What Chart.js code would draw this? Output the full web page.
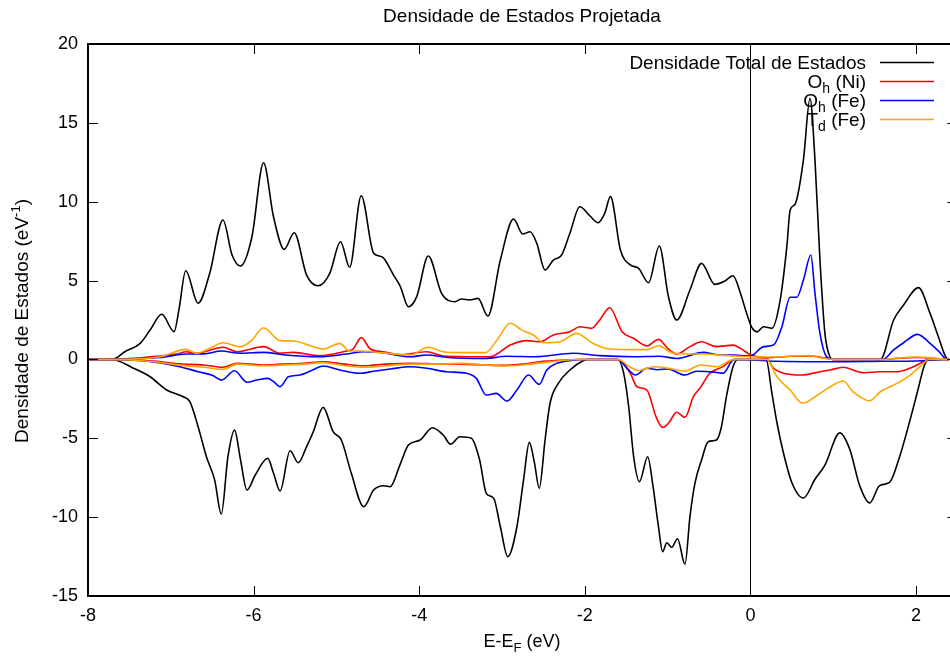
<!DOCTYPE html>
<html><head><meta charset="utf-8">
<script src="https://cdn.jsdelivr.net/npm/chart.js@4.4.1/dist/chart.umd.min.js"></script>
<style>html,body{margin:0;padding:0;background:#fff;overflow:hidden;width:950px;height:657px}canvas{display:block}</style>
</head><body>
<canvas id="c" width="958" height="657" style="width:958px;height:657px"></canvas>
<script>
// ---- data ----
const xTicks = [-8, -6, -4, -2, 0, 2];
const yTicks = [-15, -10, -5, 0, 5, 10, 15, 20];
const chartTitle = 'Densidade de Estados Projetada';
const seriesNames = ['Densidade Total de Estados', 'Oh (Ni)', 'Oh (Fe)', 'Td (Fe)'];

const totalUp = [[-8,0],[-7.71,0],[-7.55,0.5],[-7.37,1.02],[-7.25,1.86],[-7.11,2.86],[-6.96,1.76],[-6.9,3.2],[-6.82,5.62],[-6.67,3.56],[-6.53,5.46],[-6.37,8.84],[-6.26,6.62],[-6.16,5.92],[-6.02,7.78],[-5.88,12.47],[-5.76,9.05],[-5.63,6.98],[-5.51,8.03],[-5.36,5.35],[-5.22,4.67],[-5.08,5.46],[-4.95,7.46],[-4.84,5.84],[-4.7,10.38],[-4.55,6.73],[-4.45,6.51],[-4.31,5.35],[-4.23,4.65],[-4.13,3.34],[-4.03,3.98],[-3.89,6.56],[-3.73,4.19],[-3.57,3.66],[-3.49,3.83],[-3.39,3.77],[-3.29,3.87],[-3.17,2.75],[-3.02,6.3],[-2.86,8.9],[-2.75,7.95],[-2.66,8.1],[-2.58,7.36],[-2.48,5.67],[-2.38,6.3],[-2.28,6.62],[-2.18,8.0],[-2.06,9.68],[-1.94,9.11],[-1.84,8.67],[-1.76,9.26],[-1.69,10.32],[-1.57,6.94],[-1.45,5.99],[-1.35,5.78],[-1.23,4.86],[-1.1,7.19],[-0.99,3.98],[-0.89,2.5],[-0.73,4.4],[-0.59,6.09],[-0.43,4.76],[-0.31,4.97],[-0.21,5.31],[-0.12,4.2],[-0.05,3.0],[0.02,2.0],[0.08,1.75],[0.16,2.07],[0.26,1.97],[0.36,3.77],[0.44,7.15],[0.48,9.47],[0.54,9.85],[0.64,12.64],[0.72,16.56],[0.78,12.64],[0.84,6.3],[0.9,1.65],[0.96,0.17],[1.0,0],[1.57,0],[1.73,2.5],[1.85,3.45],[2.03,4.55],[2.17,2.92],[2.27,1.44],[2.37,0.07],[2.4,0]];

const totalDown = [[-8,0],[-7.71,0],[-7.45,-0.56],[-7.25,-1.1],[-7.05,-1.94],[-6.85,-2.37],[-6.77,-2.68],[-6.67,-4.27],[-6.57,-6.17],[-6.47,-7.65],[-6.39,-9.8],[-6.31,-6.17],[-6.23,-4.48],[-6.16,-6.3],[-6.08,-8.28],[-5.98,-7.33],[-5.83,-6.27],[-5.76,-7.2],[-5.68,-8.34],[-5.56,-5.79],[-5.46,-6.55],[-5.36,-5.53],[-5.28,-4.6],[-5.16,-3.04],[-5.04,-4.58],[-4.94,-5.11],[-4.82,-7.22],[-4.67,-9.34],[-4.55,-8.28],[-4.43,-8.01],[-4.35,-8.07],[-4.23,-6.65],[-4.13,-5.43],[-3.99,-5.11],[-3.84,-4.33],[-3.71,-4.79],[-3.62,-5.38],[-3.51,-4.9],[-3.37,-5.0],[-3.27,-6.38],[-3.19,-8.49],[-3.1,-8.81],[-3.02,-10.61],[-2.93,-12.51],[-2.82,-10.61],[-2.74,-7.65],[-2.67,-5.26],[-2.61,-6.5],[-2.55,-8.17],[-2.48,-5.11],[-2.42,-2.78],[-2.32,-1.52],[-2.18,-0.67],[-2.02,-0.08],[-1.95,0],[-1.6,0],[-1.53,-0.88],[-1.47,-3.0],[-1.41,-6.17],[-1.34,-7.75],[-1.24,-6.17],[-1.18,-7.9],[-1.11,-10.61],[-1.06,-12.19],[-1.01,-11.62],[-0.95,-11.91],[-0.88,-11.37],[-0.79,-12.99],[-0.73,-9.97],[-0.67,-7.86],[-0.59,-6.38],[-0.51,-5.22],[-0.41,-5.11],[-0.35,-4.27],[-0.29,-2.37],[-0.21,-0.46],[-0.15,0],[0.19,0],[0.26,-2.15],[0.32,-4.0],[0.4,-5.95],[0.5,-7.8],[0.64,-8.79],[0.78,-7.6],[0.9,-6.7],[1.08,-4.66],[1.2,-5.7],[1.32,-8.0],[1.44,-9.1],[1.56,-8.0],[1.68,-7.8],[1.8,-6.2],[1.92,-4.0],[2.02,-2.0],[2.1,-0.4],[2.15,0],[2.4,0]];

const niOhUp = [[-8,0],[-7.71,0],[-7.4,0.08],[-7.13,0.22],[-6.93,0.34],[-6.81,0.49],[-6.69,0.39],[-6.37,0.77],[-6.2,0.49],[-5.88,0.81],[-5.68,0.39],[-5.52,0.45],[-5.2,0.24],[-4.88,0.53],[-4.8,0.65],[-4.7,1.38],[-4.59,0.66],[-4.43,0.49],[-4.23,0.3],[-3.91,0.49],[-3.71,0.22],[-3.14,0.17],[-2.9,0.91],[-2.7,1.19],[-2.54,1.12],[-2.38,1.55],[-2.18,1.76],[-2.06,2.07],[-1.92,1.97],[-1.82,2.5],[-1.7,3.28],[-1.55,1.76],[-1.41,1.34],[-1.25,0.85],[-1.11,1.27],[-1.0,0.7],[-0.89,0.34],[-0.73,0.81],[-0.59,1.12],[-0.41,0.81],[-0.21,0.91],[-0.12,0.7],[0,0.3],[0.2,0.1],[0.5,0.2],[0.7,0.22],[0.9,0.1],[1.0,0],[1.6,0],[1.8,0.08],[2.0,0.12],[2.2,0.08],[2.37,0],[2.4,0]];

const niOhDown = [[-8,0],[-7.71,0],[-7.2,-0.1],[-6.89,-0.28],[-6.6,-0.35],[-6.37,-0.5],[-6.2,-0.25],[-5.9,-0.35],[-5.68,-0.3],[-5.4,-0.25],[-5.16,-0.15],[-4.9,-0.3],[-4.67,-0.4],[-4.4,-0.3],[-4.11,-0.25],[-3.8,-0.28],[-3.5,-0.3],[-3.2,-0.35],[-3.0,-0.38],[-2.75,-0.3],[-2.55,-0.15],[-2.3,-0.05],[-2.1,0],[-1.6,0],[-1.45,-0.88],[-1.37,-1.73],[-1.25,-1.94],[-1.14,-3.63],[-1.06,-4.31],[-0.99,-4.05],[-0.89,-3.35],[-0.79,-3.67],[-0.69,-2.37],[-0.61,-1.83],[-0.49,-0.88],[-0.33,-0.46],[-0.2,0],[0.2,0],[0.28,-0.56],[0.38,-0.84],[0.62,-0.99],[0.84,-0.78],[0.96,-0.67],[1.12,-0.5],[1.36,-0.84],[1.57,-0.78],[1.77,-0.78],[1.97,-0.46],[2.11,-0.08],[2.15,0],[2.4,0]];

const feOhUp = [[-8,0],[-7.71,0],[-7.13,0.12],[-6.81,0.34],[-6.6,0.35],[-6.39,0.53],[-6.16,0.39],[-5.88,0.45],[-5.62,0.28],[-5.2,0.17],[-4.88,0.34],[-4.67,0.49],[-4.47,0.45],[-4.11,0.17],[-3.91,0.28],[-3.65,0.12],[-3.2,0.06],[-2.95,0.2],[-2.6,0.17],[-2.14,0.39],[-1.82,0.24],[-1.4,0.17],[-1.1,0.2],[-0.89,0.06],[-0.57,0.45],[-0.4,0.3],[-0.2,0.28],[0,0.22],[0.16,0.81],[0.28,0.91],[0.38,2.07],[0.48,3.94],[0.56,3.94],[0.64,5.03],[0.73,6.62],[0.78,4.19],[0.84,1.65],[0.92,0.17],[1.0,0],[1.6,0],[1.73,0.6],[1.85,1.06],[2.02,1.59],[2.17,1.02],[2.29,0.43],[2.37,0],[2.4,0]];

const feOhDown = [[-8,0],[-7.71,0],[-7.3,-0.1],[-6.89,-0.46],[-6.67,-0.78],[-6.5,-1.0],[-6.39,-1.31],[-6.23,-0.72],[-6.08,-1.45],[-5.96,-1.31],[-5.83,-1.2],[-5.76,-1.4],[-5.68,-1.73],[-5.58,-1.1],[-5.44,-0.99],[-5.3,-0.7],[-5.16,-0.42],[-4.96,-0.67],[-4.72,-0.88],[-4.55,-0.75],[-4.35,-0.61],[-4.11,-0.46],[-3.91,-0.56],[-3.67,-0.78],[-3.43,-0.88],[-3.31,-1.2],[-3.19,-2.26],[-3.07,-2.15],[-2.94,-2.64],[-2.82,-1.94],[-2.68,-0.99],[-2.55,-1.58],[-2.46,-0.67],[-2.34,-0.25],[-2.15,-0.05],[-2.0,0],[-1.6,0],[-1.5,-0.5],[-1.39,-0.99],[-1.25,-0.56],[-1.12,-0.65],[-1.0,-0.6],[-0.79,-0.99],[-0.65,-0.75],[-0.41,-0.82],[-0.33,-0.88],[-0.2,0],[0.1,-0.05],[0.3,-0.12],[1.0,-0.15],[1.6,-0.12],[2.0,-0.1],[2.3,-0.02],[2.4,0]];

const feTdUp = [[-8,0],[-7.71,0],[-7.13,0.17],[-6.82,0.64],[-6.69,0.39],[-6.53,0.7],[-6.37,1.06],[-6.16,0.81],[-6.02,1.23],[-5.88,2.01],[-5.68,1.19],[-5.52,1.17],[-5.28,0.81],[-5.16,0.66],[-4.96,1.02],[-4.84,0.53],[-4.7,0.53],[-4.47,0.43],[-4.11,0.28],[-3.89,0.77],[-3.71,0.49],[-3.45,0.43],[-3.2,0.43],[-3.06,1.23],[-2.9,2.29],[-2.76,1.86],[-2.62,1.55],[-2.5,1.06],[-2.3,1.12],[-2.1,1.65],[-1.9,1.02],[-1.7,0.66],[-1.41,0.62],[-1.25,0.62],[-1.11,0.87],[-0.93,0.39],[-0.6,0.34],[-0.21,0.22],[0,0.17],[0.3,0.15],[0.5,0.22],[0.7,0.25],[0.85,0.1],[1.0,0],[1.6,0],[1.8,0.1],[2.0,0.15],[2.2,0.1],[2.37,0],[2.4,0]];

const feTdDown = [[-8,0],[-7.71,0],[-7.2,-0.15],[-6.89,-0.36],[-6.6,-0.5],[-6.37,-0.63],[-6.2,-0.3],[-5.9,-0.4],[-5.68,-0.36],[-5.4,-0.3],[-5.16,-0.2],[-4.9,-0.4],[-4.67,-0.5],[-4.4,-0.4],[-4.11,-0.3],[-3.8,-0.3],[-3.5,-0.25],[-3.2,-0.35],[-3.0,-0.42],[-2.75,-0.35],[-2.5,-0.2],[-2.3,-0.08],[-2.1,0],[-1.6,0],[-1.45,-0.5],[-1.35,-0.7],[-1.16,-0.46],[-1.0,-0.55],[-0.79,-0.74],[-0.6,-0.35],[-0.41,-0.46],[-0.2,0],[0.2,0],[0.32,-1.1],[0.48,-1.94],[0.63,-2.78],[0.84,-2.15],[1.0,-1.62],[1.12,-1.37],[1.24,-2.05],[1.44,-2.62],[1.57,-2.05],[1.77,-1.52],[1.93,-0.99],[2.09,-0.25],[2.15,0],[2.4,0]];

// ---- chart ----
const FONT = '"Liberation Sans", Arial, Helvetica, sans-serif';
const COLORS = ['#000000', '#ff0000', '#0000ff', '#ffa500'];
const pts = a => a.map(p => ({x: p[0], y: p[1]}));
const pairs = [[totalUp, totalDown], [niOhUp, niOhDown], [feOhUp, feOhDown], [feTdUp, feTdDown]];
const datasets = [];
pairs.forEach((pr, i) => {
  pr.forEach((arr, j) => {
    datasets.push({
      label: seriesNames[i] + (j ? ' (spin down)' : ''),
      data: pts(arr),
      borderColor: COLORS[i],
      backgroundColor: COLORS[i],
      borderWidth: 1.6,
      pointRadius: 0,
      fill: false,
      cubicInterpolationMode: 'monotone',
      order: 10 - i
    });
  });
});

function rich(ctx, parts, x, y, align, big, small) {
  const f = p => `${p[1] ? small : big}px ${FONT}`;
  let w = 0;
  parts.forEach(p => { ctx.font = f(p); w += ctx.measureText(p[0]).width; });
  let cx = align === 'right' ? x - w : align === 'center' ? x - w / 2 : x;
  ctx.textAlign = 'left';
  ctx.textBaseline = 'alphabetic';
  parts.forEach(p => {
    ctx.font = f(p);
    const dy = p[1] === 1 ? 5 : p[1] === 2 ? -8 : 0;
    ctx.fillText(p[0], cx, y + dy);
    cx += ctx.measureText(p[0]).width;
  });
}

const legendParts = [
  [['Densidade Total de Estados', 0]],
  [['O', 0], ['h', 1], [' (Ni)', 0]],
  [['O', 0], ['h', 1], [' (Fe)', 0]],
  [['T', 0], ['d', 1], [' (Fe)', 0]]
];

const gnuFrame = {
  id: 'gnuFrame',
  beforeDatasetsDraw(chart) {
    const {ctx, chartArea: a, scales: {x}} = chart;
    ctx.save();
    ctx.strokeStyle = '#000'; ctx.lineWidth = 1;
    const x0 = Math.round(x.getPixelForValue(0)) + 0.5;
    ctx.beginPath(); ctx.moveTo(x0, a.top); ctx.lineTo(x0, a.bottom); ctx.stroke();
    ctx.restore();
  },
  afterDraw(chart) {
    const {ctx, chartArea: a, scales: {x, y}} = chart;
    const TL = 10;
    ctx.save();
    ctx.strokeStyle = '#000'; ctx.lineWidth = 1;
    ctx.beginPath();
    x.ticks.forEach(t => {
      const px = Math.round(x.getPixelForValue(t.value)) + 0.5;
      ctx.moveTo(px, a.bottom); ctx.lineTo(px, a.bottom - TL);
      ctx.moveTo(px, a.top); ctx.lineTo(px, a.top + TL);
    });
    y.ticks.forEach(t => {
      const py = Math.round(y.getPixelForValue(t.value)) + 0.5;
      ctx.moveTo(a.left, py); ctx.lineTo(a.left + TL, py);
      ctx.moveTo(a.right, py); ctx.lineTo(a.right - TL, py);
    });
    ctx.stroke();
    ctx.lineWidth = 2;
    ctx.strokeRect(a.left, a.top, a.right - a.left, a.bottom - a.top);

    ctx.fillStyle = '#000';
    const cx = 522;
    // title
    rich(ctx, [[chartTitle, 0]], cx, 22, 'center', 19, 14);
    // x title
    rich(ctx, [['E-E', 0], ['F', 1], [' (eV)', 0]], cx, 647, 'center', 18, 13);
    // y title
    ctx.save();
    ctx.translate(28, 321);
    ctx.rotate(-Math.PI / 2);
    rich(ctx, [['Densidade de Estados (eV', 0], ['-1', 2], [')', 0]], 0, 0, 'center', 19, 13);
    ctx.restore();
    // legend
    legendParts.forEach((parts, i) => {
      const yc = 62.5 + i * 19;
      ctx.fillStyle = '#000';
      rich(ctx, parts, 866, yc + 6, 'right', 19, 14);
      ctx.strokeStyle = COLORS[i]; ctx.lineWidth = 1.6;
      ctx.beginPath(); ctx.moveTo(880, yc); ctx.lineTo(934, yc); ctx.stroke();
    });
    ctx.restore();
  }
};

new Chart(document.getElementById('c'), {
  type: 'line',
  data: {datasets},
  options: {
    responsive: false,
    animation: false,
    events: [],
    layout: {padding: {left: 0, top: 44, right: 0.6, bottom: 0}},
    plugins: {legend: {display: false}, title: {display: false}, tooltip: {enabled: false}},
    scales: {
      x: {
        type: 'linear', min: -8, max: 2.5,
        grid: {display: false, drawTicks: false}, border: {display: false},
        afterBuildTicks: s => { s.ticks = xTicks.map(v => ({value: v})); },
        afterFit: s => { s.height = 61; },
        ticks: {color: '#000', padding: 9, maxRotation: 0, autoSkip: false, font: {family: FONT, size: 18}}
      },
      y: {
        type: 'linear', min: -15, max: 20,
        grid: {display: false, drawTicks: false}, border: {display: false},
        afterBuildTicks: s => { s.ticks = yTicks.map(v => ({value: v})); },
        afterFit: s => { s.width = 88; },
        ticks: {color: '#000', padding: 10, autoSkip: false, font: {family: FONT, size: 18}}
      }
    }
  },
  plugins: [gnuFrame]
});
</script>
</body></html>
